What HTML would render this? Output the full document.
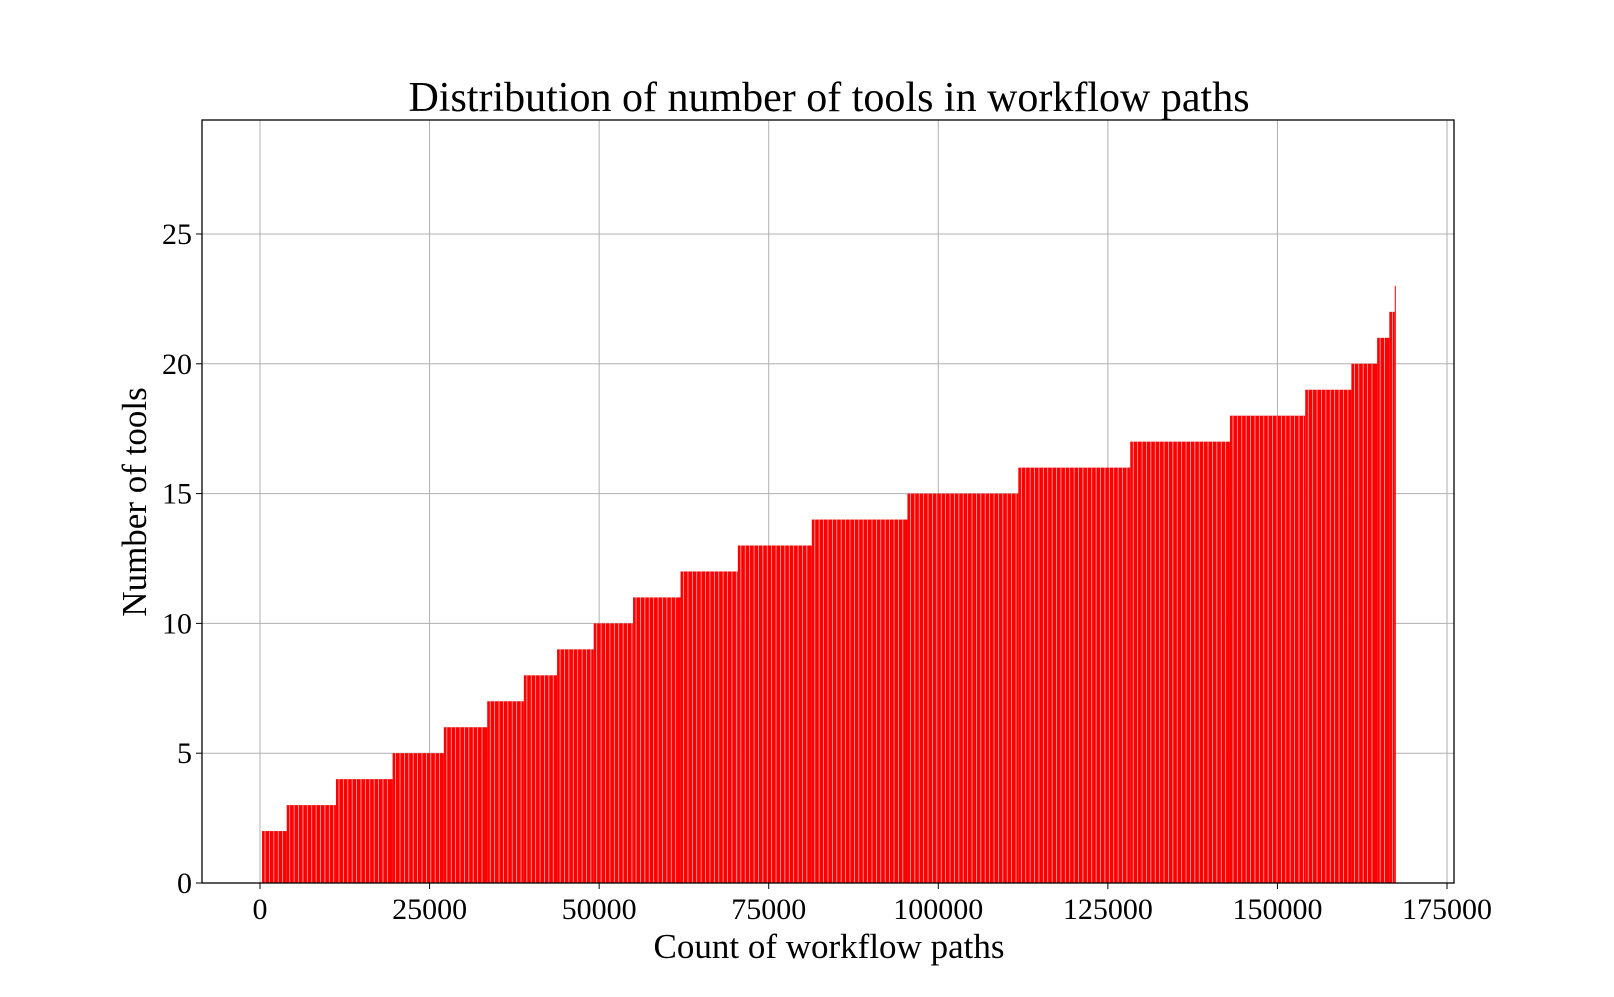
<!DOCTYPE html>
<html><head><meta charset="utf-8"><style>
body{margin:0;background:#fff;}
svg text{font-family:"Liberation Serif",serif;fill:#000;}
</style></head><body>
<svg id="chart" width="1614" height="992">
<g id="grid"></g>
<g id="bars"></g>
<g id="axes"></g>
<text x="829" y="111" font-size="42" text-anchor="middle">Distribution of number of tools in workflow paths</text>
<text x="829" y="958" font-size="35" text-anchor="middle">Count of workflow paths</text>
<text transform="translate(146,502) rotate(-90)" font-size="35" text-anchor="middle">Number of tools</text>
</svg>
<script>
const toolCounts=[2,3,4,5,6,7,8,9,10,11,12,13,14,15,16,17,18,19,20,21,22,23];
const segStart=[300,3940,11200,19550,27100,33500,38900,43800,49200,55000,62000,70450,81350,95450,111800,128300,143000,154100,160900,164700,166500,167300];
const segEnd=[3940,11200,19550,27100,33500,38900,43800,49200,55000,62000,70450,81350,95450,111800,128300,143000,154100,160900,164700,166500,167300,167450];
const xTicks=[0,25000,50000,75000,100000,125000,150000,175000];
const yTicks=[0,5,10,15,20,25];
const L=202,R=1454,T=120,B=883;
const xMin=-8551,xMax=176030,yMax=29.39;
const X=v=>L+(v-xMin)/(xMax-xMin)*(R-L);
const Y=v=>B-v/yMax*(B-T);
const NS="http://www.w3.org/2000/svg";
function mk(tag,attrs,parent){const e=document.createElementNS(NS,tag);for(const k in attrs)e.setAttribute(k,attrs[k]);parent.appendChild(e);return e;}
const grid=document.getElementById('grid'),bars=document.getElementById('bars'),axes=document.getElementById('axes');
xTicks.forEach(t=>{
 const g=mk('line',{x1:X(t),x2:X(t),y1:T,y2:B,stroke:'#b0b0b0','stroke-width':1},grid);
 
 
 mk('line',{x1:X(t),x2:X(t),y1:B,y2:B+6,stroke:'#000'},axes);
 const tx=mk('text',{x:X(t),y:B+36,'font-size':30,'text-anchor':'middle'},axes);
 tx.textContent=t;
 
 
});
yTicks.forEach(t=>{
 const g=mk('line',{x1:L,x2:R,y1:Y(t),y2:Y(t),stroke:'#b0b0b0','stroke-width':1},grid);
 
 
 mk('line',{x1:L-6,x2:L,y1:Y(t),y2:Y(t),stroke:'#000'},axes);
 const tx=mk('text',{x:L-10,y:Y(t)+10,'font-size':30,'text-anchor':'end'},axes);
 tx.textContent=t;
 
 
});
toolCounts.forEach((c,i)=>{
 const x0=X(segStart[i]),x1=X(segEnd[i]);
 const r=mk('rect',{x:x0,y:Y(c),width:Math.max(1,x1-x0),height:B-Y(c),fill:'#ff0000'},bars);
 
 
 for(let x=x0+3;x<x1-1;x+=4.4){
  mk('line',{x1:x,x2:x,y1:Y(c),y2:B,stroke:'#fff','stroke-width':0.8,'stroke-opacity':0.7},bars);
 }
});
const fr=mk('rect',{x:L,y:T,width:R-L,height:B-T,fill:'none',stroke:'#000','stroke-width':1.3},axes);


</script>
</body></html>
